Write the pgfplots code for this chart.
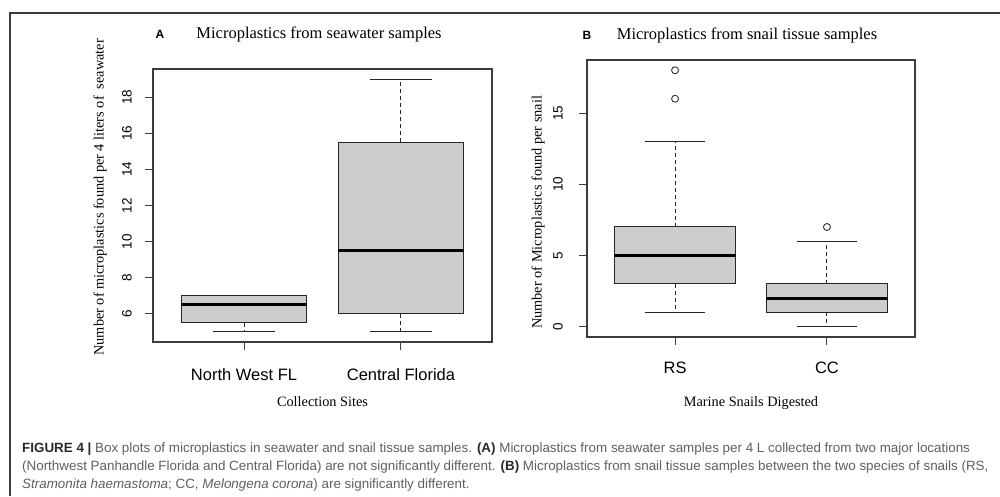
\documentclass[border=0pt]{standalone}
\usepackage{pgfplots}
\pgfplotsset{compat=1.18}
\usepgfplotslibrary{statistics}
\usepackage{fontspec}
\setmainfont{Liberation Serif}
\newfontfamily\sans{Liberation Sans}
\newfontfamily\capfont{Liberation Sans}
\definecolor{boxfill}{RGB}{205,205,205}
\definecolor{framecol}{RGB}{60,60,60}
\definecolor{capgray}{RGB}{95,95,95}
\definecolor{capdark}{RGB}{40,40,40}

\pgfplotsset{
  rbox/.style={
    scale only axis, anchor=south west,
    axis line style={draw=framecol, line width=1.2pt},
    tick pos=left, tick align=outside, major tick length=8pt,
    every tick/.style={draw=framecol, line width=1pt},
    xmin=0.42, xmax=2.58,
    xtick={1,2},
    /pgf/number format/assume math mode=true,
    ticklabel style={inner sep=0pt},
    xticklabel style={font=\sans\fontsize{16.5}{16.5}\selectfont, anchor=center},
    yticklabel style={font=\sans\fontsize{13.5}{13.5}\selectfont, rotate=90, anchor=center},
    label style={font=\fontsize{14.3}{14.3}\selectfont},
    boxplot/draw direction=y,
    boxplot/box extend=0.8,
    boxplot/whisker extend=0.4,
    boxplot/every box/.style={draw=black!85, fill=boxfill, line width=1pt},
    boxplot/every median/.style={draw=black, line width=3pt},
    boxplot/draw/lower whisker/.code={%
      \draw[draw=black!85, line width=1pt, dash pattern=on 4pt off 3pt]
        (boxplot box cs:\pgfplotsboxplotvalue{lower quartile},0.5) --
        (boxplot box cs:\pgfplotsboxplotvalue{lower whisker},0.5);
      \draw[draw=black!85, line width=1pt]
        (boxplot whisker cs:\pgfplotsboxplotvalue{lower whisker},0) --
        (boxplot whisker cs:\pgfplotsboxplotvalue{lower whisker},1);
    },
    boxplot/draw/upper whisker/.code={%
      \draw[draw=black!85, line width=1pt, dash pattern=on 4pt off 3pt]
        (boxplot box cs:\pgfplotsboxplotvalue{upper quartile},0.5) --
        (boxplot box cs:\pgfplotsboxplotvalue{upper whisker},0.5);
      \draw[draw=black!85, line width=1pt]
        (boxplot whisker cs:\pgfplotsboxplotvalue{upper whisker},0) --
        (boxplot whisker cs:\pgfplotsboxplotvalue{upper whisker},1);
    },
  },
  rout/.style={mark=o, mark size=3.5pt, mark options={draw=black!80, line width=0.9pt, solid}},
}

\begin{document}
\begin{tikzpicture}[x=1pt,y=1pt]
\path[use as bounding box] (0,0) rectangle (1000,496);
\draw[framecol, line width=1.5pt] (10,0) -- (10,483) -- (1000,483);

% Panel A
\begin{axis}[rbox, at={(153pt,154pt)}, width=339pt, height=273pt,
  ymin=4.44, ymax=19.56, ytick={6,8,10,12,14,16,18},
  xticklabels={North West FL, Central Florida},
  xticklabel shift=25pt, yticklabel shift=18pt,
  xlabel={Collection Sites},
  ylabel={Number of microplastics found per 4 liters of \ seawater},
  xlabel style={at={(axis description cs:0.5,-0.22)}, anchor=center},
  ylabel style={at={(axis description cs:-0.156,0.53)}, anchor=center},
]
\addplot[rout, boxplot prepared={draw position=1, lower whisker=5, lower quartile=5.5,
  median=6.5, upper quartile=7, upper whisker=7}] coordinates {};
\addplot[rout, boxplot prepared={draw position=2, lower whisker=5, lower quartile=6,
  median=9.5, upper quartile=15.5, upper whisker=19}] coordinates {};
\end{axis}

% Panel B
\begin{axis}[rbox, at={(587pt,159pt)}, width=328pt, height=277pt,
  ymin=-0.72, ymax=18.72, ytick={0,5,10,15},
  xticklabels={RS, CC},
  xticklabel shift=23pt, yticklabel shift=21pt,
  xlabel={Marine Snails Digested},
  ylabel={Number of Microplastics found per snail},
  xlabel style={at={(axis description cs:0.5,-0.238)}, anchor=center},
  ylabel style={at={(axis description cs:-0.149,0.45)}, anchor=center},
]
\addplot[rout, boxplot prepared={draw position=1, lower whisker=1, lower quartile=3,
  median=5, upper quartile=7, upper whisker=13}] table[row sep=\\, y index=0] {data\\ 16\\ 18\\};
\addplot[rout, boxplot prepared={draw position=2, lower whisker=0, lower quartile=1,
  median=2, upper quartile=3, upper whisker=6}] table[row sep=\\, y index=0] {data\\ 7\\};
\end{axis}

% Titles
\node[font=\sans\bfseries\fontsize{12}{12}\selectfont] at (160,462) {A};
\node[font=\fontsize{16.5}{16.5}\selectfont] at (319,462) {Microplastics from seawater samples};
\node[font=\sans\bfseries\fontsize{12}{12}\selectfont] at (587,461) {B};
\node[font=\fontsize{16.5}{16.5}\selectfont] at (747,461) {Microplastics from snail tissue samples};

% Caption
\begin{scope}[every node/.style={anchor=base west, inner sep=0pt, text=capgray, font=\capfont\fontsize{13.4}{13.4}\selectfont}]
\node at (22,44) {{\bfseries\color{capdark}FIGURE 4 |} Box plots of microplastics in seawater and snail tissue samples. {\bfseries\color{capdark}(A)} Microplastics from seawater samples per 4 L collected from two major locations};
\node at (22,26) {(Northwest Panhandle Florida and Central Florida) are not significantly different. {\bfseries\color{capdark}(B)} Microplastics from snail tissue samples between the two species of snails (RS,};
\node at (22,8) {\itshape Stramonita haemastoma\upshape; CC, \itshape Melongena corona\upshape) are significantly different.};
\end{scope}
\end{tikzpicture}
\end{document}
